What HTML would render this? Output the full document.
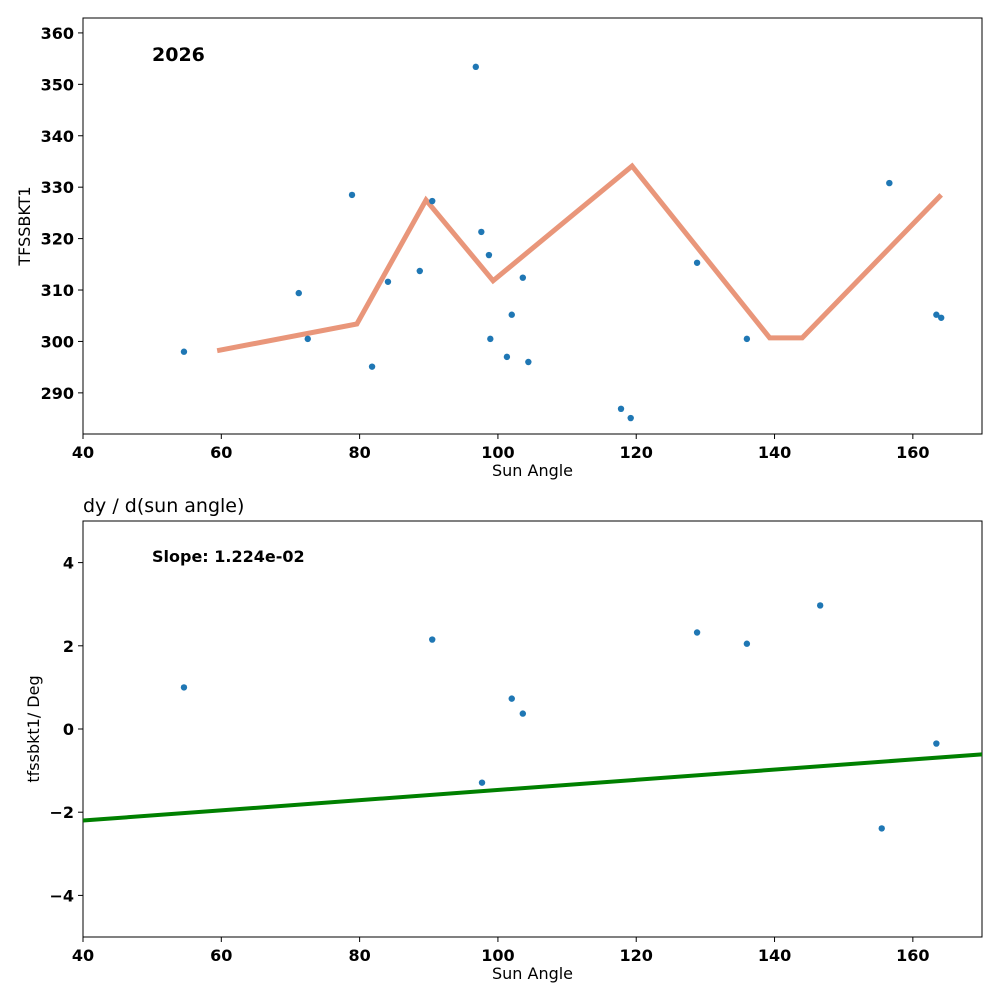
<!DOCTYPE html>
<html><head><meta charset="utf-8"><style>
body{margin:0;background:#fff;font-family:"DejaVu Sans",sans-serif;}
svg text{font-family:"DejaVu Sans",sans-serif;}
</style></head><body>
<svg id="c" width="1000" height="1000" xmlns="http://www.w3.org/2000/svg"></svg>
<script>
const topX=[54.6,71.2,72.5,78.9,81.8,84.1,88.7,90.5,96.8,97.6,98.7,98.9,101.3,102.0,103.6,104.4,117.8,119.2,128.8,136.0,156.6,163.4,164.1];
const topY=[298.0,309.4,300.5,328.5,295.1,311.6,313.7,327.3,353.4,321.3,316.8,300.5,297.0,305.2,312.4,296.0,286.9,285.1,315.3,300.5,330.8,305.2,304.6];
const lineX=[59.4,79.6,89.6,99.3,119.4,139.3,144.0,164.1];
const lineY=[298.2,303.4,327.5,311.8,334.1,300.7,300.7,328.5];
const botX=[54.6,90.5,97.7,102.0,103.6,128.8,136.0,146.6,155.5,163.4];
const botY=[1.0,2.15,-1.29,0.73,0.37,2.32,2.05,2.97,-2.39,-0.35];
const slope=0.01224, intercept=-2.69;
const xTicks=[40,60,80,100,120,140,160];
const topYTicks=[290,300,310,320,330,340,350,360];
const botYTicks=[-4,-2,0,2,4];

const svg=document.getElementById('c');
const NS='http://www.w3.org/2000/svg';
function mk(tag,attrs,parent){const e=document.createElementNS(NS,tag);for(const k in attrs)e.setAttribute(k,attrs[k]);(parent||svg).appendChild(e);return e;}
function txt(s,attrs){const t=mk('text',attrs);t.textContent=s;return t;}

const L=83,R=982;
const sx=v=>L+(v-40)/130*(R-L);
function panel(T,B,ymin,ymax,name){
  const sy=v=>B-(v-ymin)/(ymax-ymin)*(B-T);
  const r=mk('rect',{x:L,y:T,width:R-L,height:B-T,fill:'none',stroke:'#000','stroke-width':1});
  
  
  xTicks.forEach(v=>{
    mk('line',{x1:sx(v),x2:sx(v),y1:B,y2:B+5,stroke:'#000'});
    const t=txt(v,{x:sx(v),y:B+24,'text-anchor':'middle','font-size':16,'font-weight':'bold'});
    
    
  });
  const xt=txt('Sun Angle',{x:(L+R)/2,y:B+42,'text-anchor':'middle','font-size':16});
  
  
  return sy;
}
const sy1=panel(18,434,282.0,362.9,'top');
topYTicks.forEach(v=>{
  mk('line',{x1:L-5,x2:L,y1:sy1(v),y2:sy1(v),stroke:'#000'});
  const t=txt(v,{x:L-9,y:sy1(v)+6,'text-anchor':'end','font-size':16,'font-weight':'bold'});
  
  
});
const yt1=txt('TFSSBKT1',{x:30,y:226,'text-anchor':'middle','font-size':16,transform:'rotate(-90 30 226)'});


const yr=txt('2026',{x:152,y:61,'font-size':19,'font-weight':'bold'});


const pl=mk('polyline',{points:lineX.map((x,i)=>sx(x)+','+sy1(lineY[i])).join(' '),fill:'none',stroke:'#e9967a','stroke-width':5,'stroke-linejoin':'miter'});


topX.forEach((x,i)=>{
  const c=mk('circle',{cx:sx(x),cy:sy1(topY[i]),r:3.2,fill:'#1f77b4'});
  
  
});
const sy2=panel(521,937,-5,5,'bottom');
botYTicks.forEach(v=>{
  mk('line',{x1:L-5,x2:L,y1:sy2(v),y2:sy2(v),stroke:'#000'});
  const t=txt(v<0?'\u2212'+Math.abs(v):v,{x:L-9,y:sy2(v)+6,'text-anchor':'end','font-size':16,'font-weight':'bold'});
  
  
});
const yt2=txt('tfssbkt1/ Deg',{x:39,y:729,'text-anchor':'middle','font-size':16,transform:'rotate(-90 39 729)'});


const tt=txt('dy / d(sun angle)',{x:83,y:512,'font-size':19});


const sl=txt('Slope: 1.224e-02',{x:152,y:562,'font-size':16,'font-weight':'bold'});


const fl=mk('line',{x1:sx(40),y1:sy2(intercept+slope*40),x2:sx(170),y2:sy2(intercept+slope*170),stroke:'#008000','stroke-width':4});


botX.forEach((x,i)=>{
  const c=mk('circle',{cx:sx(x),cy:sy2(botY[i]),r:3.2,fill:'#1f77b4'});
  
  
});
</script>
</body></html>
